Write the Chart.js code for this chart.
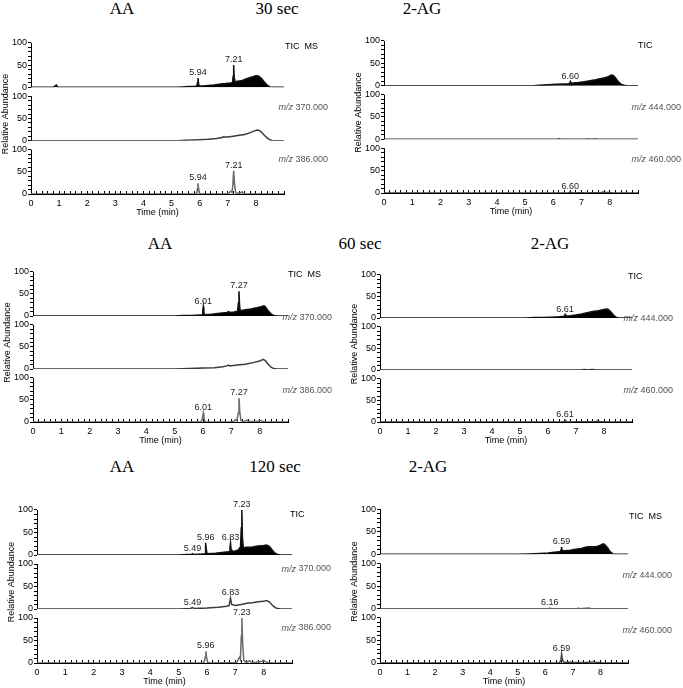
<!DOCTYPE html>
<html><head><meta charset="utf-8">
<script src="https://cdn.jsdelivr.net/npm/chart.js@4.4.1/dist/chart.umd.min.js"></script>
<style>
html,body{margin:0;padding:0;background:#fff;width:683px;height:688px;overflow:hidden;position:relative}
.t{position:absolute;font-family:"Liberation Serif","Times New Roman",serif;font-size:17px;line-height:17px;white-space:nowrap;transform:translateX(-50%);color:#000}
canvas{position:absolute}
</style></head><body>
<div class="t" style="left:122px;top:0px">AA</div>
<div class="t" style="left:277px;top:0px">30 sec</div>
<div class="t" style="left:422px;top:0px">2-AG</div>
<div class="t" style="left:160px;top:235px">AA</div>
<div class="t" style="left:360px;top:235px">60 sec</div>
<div class="t" style="left:550px;top:235px">2-AG</div>
<div class="t" style="left:122px;top:458px">AA</div>
<div class="t" style="left:275px;top:458px">120 sec</div>
<div class="t" style="left:428px;top:458px">2-AG</div>
<script>
// ---------- DATA: [time (min), relative abundance (%)] ----------
const aa30Tic = [[0,0],[0.8,0],[0.85,3],[0.9,5],[0.95,1],[1.0,0],[5.2,0],[5.4,1],[5.6,2],[5.8,2],[5.9,3],[5.92,10],[5.94,21],[5.96,8],[5.98,3],[6.1,3],[6.3,4],[6.5,5],[6.7,7],[6.8,8],[6.9,8],[7.0,9],[7.1,10],[7.17,11],[7.19,25],[7.21,50],[7.23,20],[7.25,12],[7.3,13],[7.4,14],[7.45,15],[7.5,15],[7.6,18],[7.7,20],[7.8,22],[7.9,24],[8.0,26],[8.05,26],[8.1,25],[8.2,20],[8.3,12],[8.4,5],[8.5,1],[8.6,0],[9,0]];
const aa30Mz370 = [[0,0],[5.2,0],[5.5,1],[6.0,2],[6.3,3],[6.6,5],[6.8,7],[6.85,9],[6.9,8],[7.0,8],[7.2,10],[7.4,12],[7.6,14],[7.8,18],[7.95,22],[8.05,24],[8.12,23],[8.2,19],[8.3,12],[8.4,6],[8.5,2],[8.6,0],[9,0]];
const aa30Mz386 = [[0,0],[5.8,0],[5.9,2],[5.92,12],[5.94,24],[5.96,13],[5.99,2],[6.05,0],[6.9,0],[7.05,2],[7.1,6],[7.15,4],[7.18,20],[7.21,52],[7.24,22],[7.28,3],[7.35,1],[7.45,2],[7.5,5],[7.55,1],[7.65,0],[9,0]];
const ag30Tic = [[0,0],[5.3,0],[5.5,1],[5.8,2],[6.1,3],[6.4,4],[6.55,4],[6.58,6],[6.60,9],[6.62,5],[6.7,6],[6.9,7],[7.1,9],[7.3,11],[7.5,13],[7.7,16],[7.9,19],[8.0,22],[8.05,24],[8.12,23],[8.2,18],[8.3,9],[8.4,3],[8.5,1],[8.6,0],[9,0]];
const ag30Mz444 = [[0,0],[6.15,0],[6.2,1],[6.25,0],[7.1,0],[7.2,1],[7.3,0],[7.5,1],[7.6,0],[9,0]];
const ag30Mz460 = [[0,0],[6.5,0],[6.57,1],[6.60,3],[6.63,1],[6.7,0],[7.0,1],[7.1,0],[7.7,1],[7.75,2],[7.8,1],[8.0,1],[8.1,0],[9,0]];
const aa60Tic = [[0,0],[5.0,0],[5.3,1],[5.6,1],[5.9,2],[5.98,3],[5.99,10],[6.01,21],[6.03,8],[6.05,3],[6.3,4],[6.6,6],[6.85,8],[6.9,10],[6.95,8],[7.1,9],[7.22,11],[7.25,30],[7.27,56],[7.29,25],[7.31,12],[7.5,14],[7.7,16],[7.9,19],[8.05,21],[8.15,23],[8.2,21],[8.3,12],[8.4,5],[8.5,1],[8.6,0],[9,0]];
const aa60Mz370 = [[0,0],[5.0,0],[5.5,1],[6.0,2],[6.4,3],[6.7,5],[6.85,7],[6.9,9],[6.95,7],[7.2,9],[7.5,11],[7.8,15],[8.0,18],[8.12,22],[8.2,19],[8.3,11],[8.4,4],[8.5,1],[8.6,0],[9,0]];
const aa60Mz386 = [[0,0],[5.9,0],[5.96,3],[5.99,12],[6.01,20],[6.03,12],[6.06,2],[6.1,0],[7.0,0],[7.1,2],[7.15,5],[7.2,3],[7.24,20],[7.27,54],[7.3,22],[7.34,3],[7.45,1],[7.55,4],[7.6,1],[7.9,1],[8.0,3],[8.05,3],[8.12,1],[8.2,0],[9,0]];
const ag60Tic = [[0,0],[5.2,0],[5.5,1],[5.8,1],[6.1,2],[6.4,3],[6.58,4],[6.61,8],[6.64,4],[6.8,5],[7.0,7],[7.2,9],[7.4,12],[7.6,15],[7.8,17],[7.95,19],[8.1,21],[8.15,20],[8.25,14],[8.35,6],[8.45,1],[8.55,0],[9,0]];
const ag60Mz444 = [[0,0],[7.2,0],[7.3,1],[7.4,0],[7.6,1],[7.7,0],[9,0]];
const ag60Mz460 = [[0,0],[6.5,0],[6.58,1],[6.61,4],[6.64,1],[6.7,0],[7.7,1],[7.75,2],[7.85,1],[8.0,0],[9,0]];
const aa120Tic = [[0,0],[5.0,0],[5.3,1],[5.45,1],[5.49,3],[5.53,1],[5.8,2],[5.93,3],[5.94,14],[5.96,27],[5.98,10],[6.0,3],[6.3,4],[6.6,6],[6.78,7],[6.81,16],[6.83,26],[6.85,12],[6.88,8],[7.0,9],[7.1,11],[7.15,15],[7.18,13],[7.21,60],[7.23,100],[7.25,40],[7.28,16],[7.4,17],[7.6,18],[7.8,20],[8.0,21],[8.1,22],[8.2,19],[8.3,11],[8.4,4],[8.5,1],[8.6,0],[9,0]];
const aa120Mz370 = [[0,0],[5.0,0],[5.4,1],[5.49,3],[5.55,1],[6.0,2],[6.4,4],[6.7,6],[6.78,8],[6.83,24],[6.87,10],[7.0,8],[7.2,10],[7.4,13],[7.6,14],[7.8,16],[8.0,17],[8.1,19],[8.2,16],[8.3,9],[8.4,3],[8.5,1],[8.6,0],[9,0]];
const aa120Mz386 = [[0,0],[5.8,0],[5.9,2],[5.94,14],[5.96,26],[5.98,14],[6.02,2],[6.1,0],[7.05,1],[7.12,10],[7.15,13],[7.18,8],[7.21,60],[7.23,100],[7.26,40],[7.3,5],[7.4,1],[7.5,5],[7.55,2],[7.7,1],[7.95,4],[8.0,6],[8.05,3],[8.15,1],[8.3,0],[9,0]];
const ag120Tic = [[0,0],[5.0,0],[5.4,1],[5.8,2],[6.1,3],[6.4,5],[6.55,6],[6.57,10],[6.59,16],[6.61,8],[6.7,8],[6.9,9],[7.1,11],[7.3,13],[7.5,16],[7.6,17],[7.8,17],[7.9,18],[8.0,20],[8.1,23],[8.15,22],[8.25,15],[8.35,6],[8.45,1],[8.55,0],[9,0]];
const ag120Mz444 = [[0,0],[6.1,0],[6.16,1],[6.22,0],[7.15,0],[7.2,1],[7.25,0],[7.55,1],[7.6,1],[7.65,0],[9,0]];
const ag120Mz460 = [[0,0],[6.5,0],[6.56,5],[6.59,20],[6.62,8],[6.66,2],[6.75,1],[6.9,2],[6.95,1],[7.5,1],[7.7,2],[7.75,3],[7.8,1],[8.0,1],[8.1,0],[9,0]];

// labelled peaks (retention times)
const aa30TicPeaks = [5.94, 7.21], aa30Mz386Peaks = [5.94, 7.21];
const ag30TicPeaks = [6.60], ag30Mz460Peaks = [6.60];
const aa60TicPeaks = [6.01, 7.27], aa60Mz386Peaks = [6.01, 7.27];
const ag60TicPeaks = [6.61], ag60Mz460Peaks = [6.61];
const aa120TicPeaks = [5.49, 5.96, 6.83, 7.23], aa120Mz370Peaks = [5.49, 6.83], aa120Mz386Peaks = [5.96, 7.23];
const ag120TicPeaks = [6.59], ag120Mz444Peaks = [6.16], ag120Mz460Peaks = [6.59];

// trace labels
const aaLabels = ['TIC  MS', '370.000', '386.000'];
const agLabels = ['TIC', '444.000', '460.000'];
const xTickLabels = ['0','1','2','3','4','5','6','7','8'];
const yTickLabels = ['0','50','100'];

// ---------- LAYOUT ----------
const FONT = '"Liberation Sans", Arial, sans-serif';
Chart.defaults.font.family = FONT;
const panels = [
  {rect:[31,33.8,284,194.3], labels:['TIC  MS', aaLabels[1], aaLabels[2]], dy:[3.3,11.6,10.3], ticDx:1, mzDx:44,
   traces:[[aa30Tic,aa30TicPeaks],[aa30Mz370,[]],[aa30Mz386,aa30Mz386Peaks]], kind:'aa'},
  {rect:[384,31.7,638,193.3], labels:agLabels, dy:[4.3,13,11.6], ticDx:0, mzDx:43,
   traces:[[ag30Tic,ag30TicPeaks],[ag30Mz444,[]],[ag30Mz460,ag30Mz460Peaks]], kind:'ag'},
  {rect:[33,262.8,288,422.3], labels:['TIC  MS', aaLabels[1], aaLabels[2]], dy:[2.6,-7.6,12.3], ticDx:0, mzDx:44,
   traces:[[aa60Tic,aa60TicPeaks],[aa60Mz370,[]],[aa60Mz386,aa60Mz386Peaks]], kind:'aa'},
  {rect:[380,266.3,632,422.3], labels:agLabels, dy:[1.7,-8.6,12.3], ticDx:-4, mzDx:41,
   traces:[[ag60Tic,ag60TicPeaks],[ag60Mz444,[]],[ag60Mz460,ag60Mz460Peaks]], kind:'ag'},
  {rect:[37,501,292,663.3], labels:['TIC', aaLabels[1], aaLabels[2]], dy:[5,5,10], ticDx:-2, mzDx:39,
   traces:[[aa120Tic,aa120TicPeaks],[aa120Mz370,aa120Mz370Peaks],[aa120Mz386,aa120Mz386Peaks]], kind:'aa'},
  {rect:[380,500,628,663], labels:['TIC  MS', agLabels[1], agLabels[2]], dy:[7.7,12,12.7], ticDx:1, mzDx:44,
   traces:[[ag120Tic,ag120TicPeaks],[ag120Mz444,ag120Mz444Peaks],[ag120Mz460,ag120Mz460Peaks]], kind:'ag'}
];
const traceColors = {aa:['#111','#3a3a3a','#6a6a6a'], ag:['#111','#2e2e2e','#444']};

const YW = 31, XH = 24, PT = 2, PR = 45;
const yIds = ['yA','yB','yC'];

const labelPlugin = {
  id: 'labels',
  beforeDatasetsDraw(chart) {
    // y axis lines spanning 0..100 of each stacked sub-axis
    const ctx = chart.ctx, ca = chart.chartArea;
    ctx.save();
    ctx.strokeStyle = '#000'; ctx.lineWidth = 1;
    yIds.forEach(id => {
      const ys = chart.scales[id];
      const x = Math.round(ca.left) + 0.5;
      ctx.beginPath();
      ctx.moveTo(x, ys.getPixelForValue(0));
      ctx.lineTo(x, ys.getPixelForValue(100));
      ctx.stroke();
    });
    ctx.restore();
  },
  afterDatasetsDraw(chart) {
    const p = chart.config.options.plugins.labels.panel;
    const ctx = chart.ctx, xs = chart.scales.x, ca = chart.chartArea;
    ctx.save();
    p.traces.forEach((tr, i) => {
      const ys = chart.scales[yIds[i]];
      tr[1].forEach(t => {
        const pt = tr[0].find(d => Math.abs(d[0] - t) < 1e-9);
        if (!pt) return;
        ctx.font = '9px ' + FONT;
        ctx.fillStyle = '#222';
        ctx.textAlign = 'center';
        ctx.textBaseline = 'bottom';
        ctx.fillText(t.toFixed(2), xs.getPixelForValue(pt[0]), ys.getPixelForValue(pt[1]) - 1);
      });
    });
    ctx.textBaseline = 'middle';
    p.labels.forEach((lab, i) => {
      const ys = chart.scales[yIds[i]];
      const y = ys.getPixelForValue(100) + p.dy[i];
      if (i === 0) {
        ctx.font = '9px ' + FONT;
        ctx.fillStyle = '#000';
        ctx.textAlign = 'left';
        ctx.fillText(lab, ca.right + p.ticDx, y);
      } else {
        const right = ca.right + p.mzDx;
        ctx.font = '9px ' + FONT;
        ctx.fillStyle = '#555';
        ctx.textAlign = 'right';
        const num = ' ' + lab;
        ctx.fillText(num, right, y);
        const w = ctx.measureText(num).width;
        ctx.font = 'italic 9px ' + FONT;
        ctx.fillText('m/z', right - w, y);
      }
    });
    ctx.restore();
  }
};

panels.forEach(p => {
  const [l, t, r, b] = p.rect;
  const cl = Math.round(l - YW), ct = Math.round(t - PT);
  const w = Math.round(r - cl + PR), h = Math.round(b - ct + XH);
  const cv = document.createElement('canvas');
  cv.width = w; cv.height = h;
  cv.style.left = cl + 'px'; cv.style.top = ct + 'px';
  cv.style.width = w + 'px'; cv.style.height = h + 'px';
  document.body.appendChild(cv);

  const scales = {
    x: {
      type: 'linear', position: 'bottom', min: 0, max: 9,
      afterBuildTicks: s => { const a = []; for (let k = 0; k <= 45; k++) a.push({value: k / 5}); s.ticks = a; },
      ticks: {autoSkip: false, maxRotation: 0, padding: 7, color: '#000', font: {size: 9},
        callback: v => (Number.isInteger(v) && xTickLabels[v] !== undefined) ? xTickLabels[v] : ''},
      grid: {drawOnChartArea: false, drawTicks: true, tickLength: -3, color: '#000'},
      border: {display: true, color: '#000', width: 1},
      title: {display: true, text: 'Time (min)', color: '#000', font: {size: 9}, padding: 0},
      afterFit: s => { s.height = XH; s.paddingLeft = 0; s.paddingRight = 0; }
    }
  };
  yIds.forEach((id, i) => {
    scales[id] = {
      type: 'linear', position: 'left', stack: 'panel', stackWeight: 1, weight: 3 - i,
      min: 0, max: 120,
      afterBuildTicks: s => { const a = []; for (let v = 0; v <= 100; v += 10) a.push({value: v}); s.ticks = a; },
      ticks: {autoSkip: false, padding: 1, color: '#000', font: {size: 9},
        callback: v => (v % 50 === 0) ? yTickLabels[v / 50] : ''},
      grid: {drawOnChartArea: false, drawTicks: true, tickLength: 3, color: '#000'},
      border: {display: false},
      title: {display: i === 1, text: 'Relative Abundance', color: '#000', font: {size: 9}, padding: 0},
      afterFit: s => { s.width = YW; s.paddingTop = 0; s.paddingBottom = 0; }
    };
  });

  const cols = traceColors[p.kind];
  new Chart(cv, {
    type: 'line',
    data: {
      datasets: p.traces.map((tr, i) => ({
        data: tr[0].map(d => ({x: d[0], y: d[1]})),
        yAxisID: yIds[i], xAxisID: 'x',
        borderColor: cols[i], borderWidth: 1.5,
        backgroundColor: i === 0 ? '#000' : 'rgba(0,0,0,0)',
        fill: i === 0 ? 'origin' : false,
        pointRadius: 0, tension: 0
      }))
    },
    options: {
      responsive: false, animation: false, devicePixelRatio: 1,
      layout: {padding: {left: 0, top: PT, right: PR, bottom: 0}},
      scales,
      plugins: {legend: {display: false}, tooltip: {enabled: false}, labels: {panel: p}}
    },
    plugins: [labelPlugin]
  });
});
</script>
</body></html>
